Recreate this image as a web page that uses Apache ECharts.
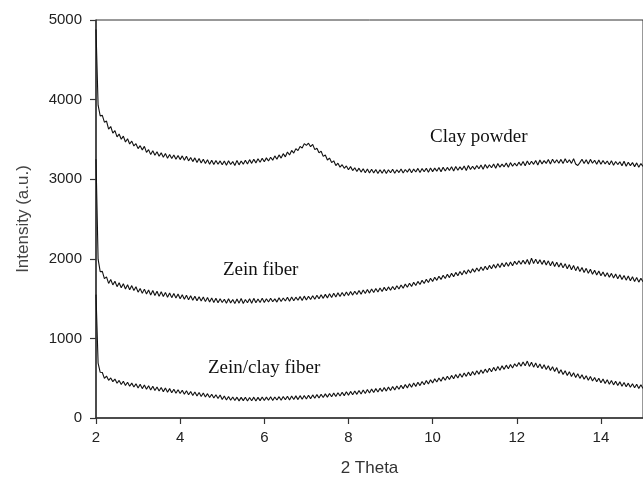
<!DOCTYPE html>
<html>
<head>
<meta charset="utf-8">
<script src="https://cdn.jsdelivr.net/npm/echarts@6/dist/echarts.min.js"></script>
<style>
  html, body { margin: 0; padding: 0; background: #fff; }
  #chart { width: 643px; height: 482px; }
</style>
</head>
<body>
<div id="chart"></div>
<script>
// 2-theta sampling: 2.00 .. 15.00, every 0.05
const thetaStart = 2;
const thetaStep = 0.05;

const clayPowder = [
  4880, 3930, 3795, 3802, 3716, 3731, 3628, 3662, 3578, 3611, 3532, 3567, 3501, 3541, 3468, 3509, 3442, 3478, 3418, 3446,
  3384, 3421, 3368, 3412, 3337, 3372, 3309, 3358, 3301, 3344, 3289, 3331, 3276, 3322, 3264, 3310, 3260, 3305, 3251, 3299,
  3246, 3293, 3239, 3287, 3230, 3272, 3221, 3268, 3209, 3259, 3203, 3251, 3197, 3244, 3189, 3238, 3184, 3235, 3187, 3230,
  3181, 3229, 3176, 3232, 3184, 3221, 3172, 3236, 3180, 3228, 3189, 3238, 3191, 3246, 3199, 3251, 3205, 3258, 3213, 3264,
  3219, 3268, 3228, 3276, 3239, 3293, 3251, 3305, 3265, 3321, 3281, 3342, 3304, 3361, 3328, 3384, 3359, 3412, 3391, 3447,
  3425, 3452, 3408, 3438, 3371, 3389, 3331, 3352, 3287, 3305, 3241, 3266, 3209, 3231, 3172, 3201, 3151, 3182, 3137, 3166,
  3119, 3158, 3108, 3144, 3097, 3139, 3089, 3131, 3082, 3128, 3077, 3124, 3079, 3121, 3071, 3118, 3076, 3123, 3072, 3119,
  3081, 3124, 3074, 3119, 3083, 3128, 3077, 3122, 3089, 3131, 3082, 3127, 3091, 3136, 3084, 3133, 3094, 3138, 3088, 3141,
  3095, 3139, 3101, 3146, 3093, 3151, 3104, 3148, 3109, 3157, 3102, 3160, 3113, 3155, 3118, 3166, 3110, 3171, 3121, 3163,
  3124, 3172, 3131, 3178, 3126, 3185, 3139, 3181, 3144, 3192, 3137, 3196, 3151, 3189, 3156, 3203, 3149, 3208, 3163, 3201,
  3166, 3214, 3172, 3221, 3168, 3229, 3181, 3225, 3187, 3236, 3179, 3241, 3192, 3233, 3198, 3247, 3190, 3252, 3203, 3244,
  3201, 3249, 3196, 3256, 3207, 3244, 3199, 3258, 3191, 3172, 3208, 3251, 3197, 3245, 3190, 3249, 3201, 3238, 3188, 3242,
  3187, 3236, 3192, 3229, 3181, 3233, 3176, 3222, 3184, 3219, 3170, 3226, 3163, 3214, 3171, 3209, 3158, 3205, 3149, 3196,
  3160
];

const zeinFiber = [
  3250, 1995, 1838, 1842, 1751, 1773, 1691, 1739, 1672, 1718, 1650, 1699, 1637, 1688, 1621, 1674, 1612, 1663, 1602, 1648,
  1581, 1628, 1566, 1619, 1558, 1607, 1546, 1601, 1539, 1592, 1528, 1587, 1526, 1578, 1517, 1571, 1512, 1564, 1506, 1558,
  1498, 1547, 1492, 1541, 1484, 1536, 1479, 1530, 1473, 1524, 1469, 1519, 1462, 1515, 1458, 1509, 1452, 1503, 1449, 1499,
  1451, 1492, 1441, 1498, 1446, 1489, 1437, 1494, 1443, 1501, 1439, 1488, 1447, 1497, 1442, 1503, 1448, 1495, 1451, 1506,
  1452, 1499, 1458, 1504, 1461, 1497, 1456, 1511, 1464, 1508, 1470, 1516, 1467, 1521, 1473, 1518, 1479, 1525, 1476, 1531,
  1482, 1529, 1488, 1536, 1492, 1541, 1497, 1549, 1503, 1553, 1509, 1561, 1514, 1566, 1519, 1572, 1527, 1576, 1533, 1583,
  1538, 1589, 1544, 1593, 1551, 1601, 1556, 1607, 1563, 1614, 1569, 1621, 1576, 1628, 1583, 1633, 1590, 1641, 1598, 1647,
  1604, 1652, 1612, 1661, 1621, 1671, 1631, 1682, 1642, 1693, 1653, 1704, 1665, 1716, 1677, 1729, 1690, 1742, 1703, 1755,
  1716, 1769, 1729, 1781, 1741, 1793, 1753, 1806, 1764, 1817, 1776, 1829, 1787, 1841, 1798, 1852, 1810, 1863, 1821, 1874,
  1833, 1885, 1844, 1896, 1853, 1907, 1863, 1917, 1874, 1928, 1883, 1937, 1891, 1946, 1899, 1954, 1906, 1961, 1913, 1968,
  1928, 1975, 1931, 1983, 1936, 1991, 1929, 2008, 1941, 1996, 1937, 1989, 1930, 1981, 1922, 1974, 1913, 1966, 1904, 1957,
  1897, 1948, 1886, 1939, 1874, 1927, 1862, 1915, 1851, 1903, 1839, 1891, 1828, 1880, 1817, 1868, 1806, 1857, 1796, 1846,
  1786, 1835, 1777, 1826, 1768, 1817, 1758, 1809, 1749, 1800, 1741, 1791, 1732, 1783, 1724, 1774, 1716, 1766, 1707, 1755,
  1712
];

const zeinClayFiber = [
  1550, 690, 574, 571, 498, 527, 474, 503, 457, 489, 437, 472, 421, 461, 409, 449, 398, 438, 389, 429,
  378, 423, 369, 414, 360, 405, 352, 398, 345, 390, 338, 383, 331, 376, 324, 369, 318, 361, 312, 355,
  307, 349, 299, 342, 291, 334, 283, 327, 276, 320, 270, 313, 264, 306, 257, 299, 251, 293, 246, 288,
  233, 276, 227, 271, 223, 264, 219, 262, 215, 259, 218, 261, 213, 258, 217, 262, 214, 259, 218, 263,
  219, 262, 223, 266, 221, 264, 226, 268, 224, 271, 229, 273, 227, 276, 232, 278, 231, 281, 236, 283,
  239, 286, 243, 290, 248, 294, 252, 299, 257, 303, 262, 308, 266, 313, 271, 318, 276, 323, 281, 329,
  287, 334, 292, 339, 297, 345, 302, 351, 308, 357, 314, 363, 320, 369, 326, 375, 332, 382, 338, 388,
  346, 395, 353, 403, 361, 411, 369, 420, 378, 429, 387, 439, 397, 449, 407, 459, 417, 470, 428, 481,
  441, 492, 452, 503, 463, 514, 474, 525, 484, 535, 494, 545, 503, 556, 513, 566, 523, 576, 532, 585,
  541, 594, 551, 604, 561, 614, 571, 625, 582, 636, 592, 646, 601, 655, 611, 664, 619, 673, 628, 681,
  647, 696, 651, 704, 655, 715, 648, 701, 639, 690, 630, 679, 620, 668, 608, 657, 597, 645, 585, 633,
  560, 607, 547, 594, 534, 581, 522, 569, 509, 556, 498, 544, 486, 532, 475, 521, 465, 510, 455, 500,
  444, 490, 434, 480, 425, 471, 416, 462, 408, 454, 400, 446, 393, 438, 386, 431, 379, 424, 372, 417,
  370
];

const labels = [
  { text: 'Clay powder', left: 430, top: 128 },
  { text: 'Zein fiber', left: 223, top: 261 },
  { text: 'Zein/clay fiber', left: 208, top: 359 }
];

const toPairs = values => values.map((v, i) => [+(thetaStart + i * thetaStep).toFixed(2), v]);

const sansFont = '"Liberation Sans", Arial, sans-serif';

const traceSeries = (name, values) => ({
  name,
  type: 'line',
  data: toPairs(values),
  showSymbol: false,
  symbol: 'none',
  animation: false,
  lineStyle: { color: '#111', width: 1.1 }
});

const chart = echarts.init(document.getElementById('chart'), null, { renderer: 'canvas' });

chart.setOption({
  backgroundColor: '#fff',
  animation: false,
  grid: {
    left: 96,
    right: -3,
    top: 20,
    bottom: 64,
    show: true,
    borderColor: '#333',
    borderWidth: 1
  },
  xAxis: {
    type: 'value',
    min: 2,
    max: 15,
    interval: 2,
    name: '2 Theta',
    nameLocation: 'middle',
    nameGap: 42,
    nameTextStyle: { fontFamily: sansFont, fontSize: 17, color: '#333' },
    splitLine: { show: false },
    axisLine: { onZero: false, lineStyle: { color: '#333', width: 1.5 } },
    axisTick: { show: true, length: 6, lineStyle: { color: '#333', width: 1.2 } },
    axisLabel: {
      margin: 12,
      fontFamily: sansFont,
      fontSize: 15,
      color: '#222',
      showMaxLabel: false,
      formatter: v => String(v)
    }
  },
  yAxis: {
    type: 'value',
    min: 0,
    max: 5000,
    interval: 1000,
    name: 'Intensity (a.u.)',
    nameLocation: 'middle',
    nameGap: 64,
    nameTextStyle: { fontFamily: sansFont, fontSize: 17, color: '#444' },
    splitLine: { show: false },
    axisLine: { show: true, lineStyle: { color: '#333', width: 1.5 } },
    axisTick: { show: true, length: 6, lineStyle: { color: '#333', width: 1.2 } },
    axisLabel: {
      margin: 14,
      fontFamily: sansFont,
      fontSize: 15,
      color: '#222',
      formatter: v => String(v)
    }
  },
  series: [
    traceSeries('Clay powder', clayPowder),
    traceSeries('Zein fiber', zeinFiber),
    traceSeries('Zein/clay fiber', zeinClayFiber)
  ],
  graphic: labels.map(l => ({
    type: 'text',
    left: l.left,
    top: l.top,
    style: {
      text: l.text,
      font: '19px "Liberation Serif", "Times New Roman", serif',
      fill: '#111'
    }
  }))
});
</script>
</body>
</html>
